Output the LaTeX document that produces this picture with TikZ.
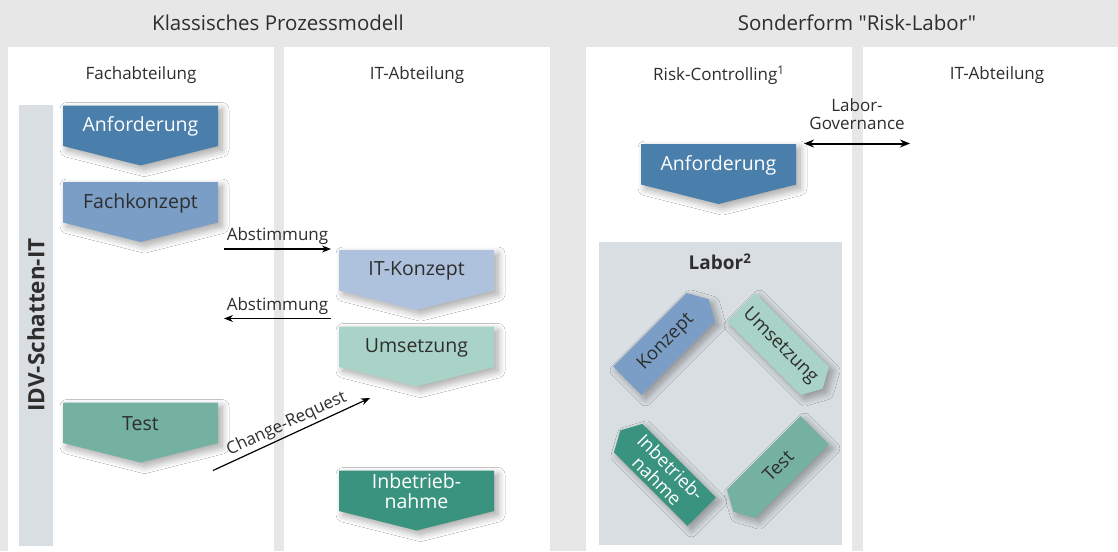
\documentclass[tikz,border=0pt]{standalone}
\usepackage{fontspec}
\setmainfont{Open Sans}[Ligatures=TeXOff]
\usetikzlibrary{arrows.meta,shadows.blur}

\definecolor{bggray}{HTML}{E6E7E6}
\definecolor{bargray}{HTML}{D9DEE2}
\definecolor{txt}{HTML}{2E2E2E}
\definecolor{bluedark}{HTML}{4A7EAB}
\definecolor{bluemid}{HTML}{7A9EC6}
\definecolor{bluelight}{HTML}{AEC2DD}
\definecolor{mint}{HTML}{A9D3C7}
\definecolor{tealmid}{HTML}{74B1A0}
\definecolor{tealdark}{HTML}{3A937E}

\tikzset{
  x=1pt, y=-1pt,
  procshadow/.style={blur shadow={shadow xshift=4pt, shadow yshift=-4pt,
      shadow blur radius=7pt, shadow blur steps=12, shadow opacity=35}},
  headtext/.style={font=\fontsize{20.5}{23}\selectfont, text=txt},
  coltext/.style={font=\fontsize{17}{19}\selectfont, text=txt},
  steptext/.style={font=\fontsize{19.5}{20}\selectfont, align=center, inner sep=0pt},
  labtext/.style={font=\fontsize{18.5}{19}\selectfont, align=center, inner sep=0pt},
  arrlabel/.style={font=\fontsize{17}{18}\selectfont, text=txt, align=center},
  flow/.style={draw=black, line width=1.2pt, -{Stealth[length=9pt,width=7pt]}},
}

% downward process step, top-left corner (#2,#3), 155 wide, 40.5 body, 19.5 tip
\newcommand\procstep[6]{%
  \fill[#4, procshadow] (#2,#3) -- ++(155,0) -- ++(0,40.5) -- ++(-77.5,19.5)
    -- ++(-77.5,-19.5) -- cycle;
  \node[steptext, text=#5] (#1) at ({#2+77.5},{#3+21}) {#6};
}

% diagonal lab step: centre (#1,#2), unit direction (#3,#4), fill #5
\newcommand\labshape[5]{%
  \fill[#5, procshadow]
    ({#1-57.5*(#3)+20*(#4)},{#2-57.5*(#4)-20*(#3)}) --
    ({#1+46.5*(#3)+20*(#4)},{#2+46.5*(#4)-20*(#3)}) --
    ({#1+57.5*(#3)},{#2+57.5*(#4)}) --
    ({#1+46.5*(#3)-20*(#4)},{#2+46.5*(#4)+20*(#3)}) --
    ({#1-57.5*(#3)-20*(#4)},{#2-57.5*(#4)+20*(#3)}) -- cycle;
}

\begin{document}
\begin{tikzpicture}
  % canvas and the four lanes
  \fill[bggray] (0,0) rectangle (1118,551);
  \useasboundingbox (0,0) rectangle (1118,551);
  \fill[white] (8,47) rectangle (274,551);
  \fill[white] (284,47) rectangle (550,551);
  \fill[white] (586,47) rectangle (852,551);
  \fill[white] (863,47) rectangle (1118,551);

  % section headings
  \node[headtext] (hkl) at (278,22.5) {Klassisches Prozessmodell};
  \node[headtext] (hso) at (857,22.5) {Sonderform "Risk-Labor"};

  % lane headings
  \node[coltext] (lfach) at (141,75.5) {Fachabteilung};
  \node[coltext] (lit1) at (417,75.5) {IT-Abteilung};
  \node[coltext] (lrisk) at (719,75.5) {Risk-Controlling\textsuperscript{1}};
  \node[coltext] (lit2) at (997,75.5) {IT-Abteilung};

  % shadow IT bar
  \fill[bargray] (19,105) rectangle (53,546);
  \node[rotate=90, font=\bfseries\fontsize{22.5}{24}\selectfont, text=txt] (idv) at (36,325) {IDV-Schatten-IT};

  % classic process steps
  \procstep{anf}{63}{105.5}{bluedark}{white}{Anforderung}
  \procstep{fko}{63}{182}{bluemid}{txt}{Fachkonzept}
  \procstep{itk}{339}{250}{bluelight}{txt}{IT-Konzept}
  \procstep{ums}{339}{326.5}{mint}{txt}{Umsetzung}
  \procstep{tst}{63}{402.5}{tealmid}{txt}{Test}
  \procstep{inb}{339}{470.5}{tealdark}{white}{Inbetrieb-\\nahme}
  \procstep{anf2}{641}{144}{bluedark}{white}{Anforderung}

  % coordination arrows
  \coordinate (a1s) at (224,249);
  \coordinate (a1e) at (331,249);
  \draw[flow] (a1s) -- node[arrlabel, above=0pt] (ab1) {Abstimmung} (a1e);
  \coordinate (a2s) at (331,318.5);
  \coordinate (a2e) at (224,318.5);
  \draw[flow] (a2s) -- node[arrlabel, above=0pt] (ab2) {Abstimmung} (a2e);
  \coordinate (crs) at (213,470.5);
  \coordinate (cre) at (370,398);
  \draw[flow] (crs) -- node[arrlabel, above=-1pt, sloped, pos=0.5] (crl) {Change-Request} (cre);

  % lab governance
  \coordinate (gvs) at (804,143.5);
  \coordinate (gve) at (910,143.5);
  \draw[draw=black, line width=2pt, {Stealth[length=10pt,width=8pt]}-{Stealth[length=10pt,width=8pt]}] (gvs) -- (gve);
  \node[arrlabel, inner sep=0pt] (gvl) at (857,114.5) {Labor-\\Governance};

  % lab cycle
  \fill[bargray] (599,242) rectangle (842,545);
  \node[font=\bfseries\fontsize{19}{21}\selectfont, text=txt] (lab) at (720,262) {Labor\textsuperscript{2}};
  \labshape{668}{340}{0.7071}{-0.7071}{bluemid}
  \labshape{782}{348}{0.7071}{0.7071}{mint}
  \labshape{774}{471}{-0.7071}{0.7071}{tealmid}
  \labshape{661}{471}{-0.7071}{-0.7071}{tealdark}
  \node[labtext, rotate=45, text=txt] (lko) at (666,342) {Konzept};
  \node[labtext, rotate=-45, text=txt] (lum) at (780,346) {Umsetzung};
  \node[labtext, rotate=45, text=txt] (lte) at (778,466) {Test};
  \node[labtext, rotate=-45, text=white] (lin) at (664,474) {Inbetrieb-\\nahme};
\end{tikzpicture}
\end{document}
